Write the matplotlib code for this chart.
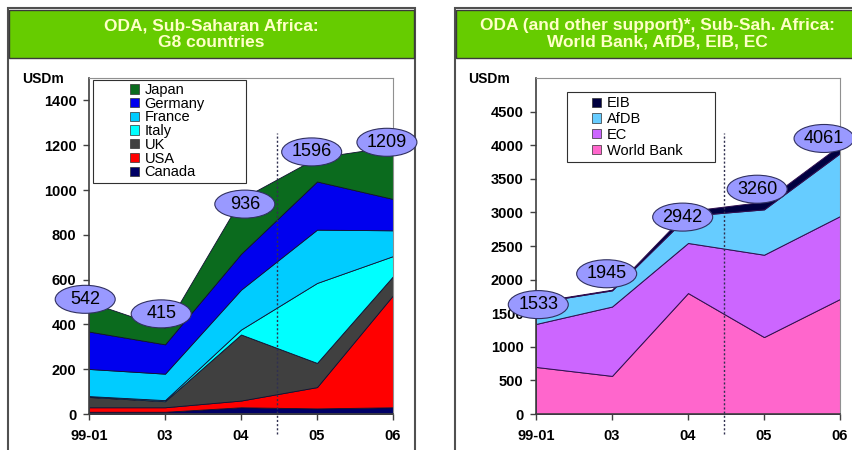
import numpy as np
import matplotlib
matplotlib.use("Agg")
import matplotlib.pyplot as plt
import matplotlib.patches as mpatches
import matplotlib.transforms as mtransforms

plt.rcParams['font.family'] = ['Liberation Sans', 'DejaVu Sans']

years = ['99-01', '03', '04', '05', '06']

# left chart: G8 donors, USD m (stack order bottom -> top)
g8_names = ['Canada', 'USA', 'UK', 'Italy', 'France', 'Germany', 'Japan']
canada = [10, 10, 30, 25, 30]
usa = [20, 20, 30, 95, 500]
uk = [46, 27, 295, 108, 85]
italy = [4, 5, 22, 357, 90]
france = [121, 118, 178, 238, 115]
germany = [167, 131, 160, 215, 140]
japan = [132, 74, 245, 107, 235]
g8_colors = ['#000066', '#ff0000', '#404040', '#00ffff', '#00ccff', '#0000ee', '#0b6b1e']
g8_bubbles = ['542', '415', '936', '1596', '1209']
g8_bub_x = [-0.05, 0.95, 2.05, 2.93, 3.92]
g8_bub_y = [512, 447, 937, 1170, 1213]

# right chart: multilaterals, USD m (bottom -> top)
ml_names = ['World Bank', 'EC', 'AfDB', 'EIB']
world_bank = [700, 567, 1800, 1145, 1712]
ec = [640, 1032, 745, 1225, 1233]
afdb = [320, 241, 405, 675, 935]
eib = [10, 10, 70, 115, 120]
ml_colors = ['#ff66cc', '#cc66ff', '#66ccff', '#000040']
ml_bubbles = ['1533', '1945', '2942', '3260', '4061']
ml_bub_x = [0.03, 0.93, 1.93, 2.91, 3.79]
ml_bub_y = [1628, 2087, 2930, 3345, 4100]

W, H = 853, 450
fig = plt.figure(figsize=(W / 100, H / 100), dpi=100)


def px(x0, y0, w, h):
    # pixel box (top-left origin) -> figure fraction
    return [x0 / W, 1 - (y0 + h) / H, w / W, h / H]


def frame(x0, x1, title):
    r = mpatches.Rectangle((x0 / W, -0.02), (x1 - x0) / W, 1 - 8 / H + 0.02,
                           transform=fig.transFigure, fc='white', ec='#505050', lw=1.5, zorder=-2)
    fig.patches.append(r)
    band = mpatches.Rectangle(((x0 + 1) / W, 1 - 58 / H), (x1 - x0 - 2) / W, 48 / H,
                              transform=fig.transFigure, fc='#66cc00', ec='#3a3a3a', lw=1.0, zorder=-1)
    fig.patches.append(band)
    fig.text((x0 + x1) / 2 / W, 1 - 34 / H, title, ha='center', va='center', fontsize=12.5,
             fontweight='bold', color='#ffffc8', linespacing=1.15)


frame(8, 415, 'ODA, Sub-Saharan Africa:\nG8 countries')
frame(455, 860, 'ODA (and other support)*, Sub-Sah. Africa:\nWorld Bank, AfDB, EIB, EC')


def style_axes(ax, ymax, step, top):
    ax.set_xlim(0, 4)
    ax.set_ylim(0, top)
    ax.set_xticks(range(5))
    ax.set_xticklabels(years, fontsize=10.5, fontweight='bold')
    ax.set_yticks(np.arange(0, ymax + 1, step))
    ax.set_yticklabels([str(v) for v in np.arange(0, ymax + 1, step)], fontsize=10.5, fontweight='bold')
    ax.tick_params(length=4, width=1, color='#404040', pad=5)
    ax.tick_params(axis='x', pad=7)
    for s in ['top', 'right']:
        ax.spines[s].set_color('#909090')
        ax.spines[s].set_linewidth(0.8)
    for s in ['left', 'bottom']:
        ax.spines[s].set_color('#404040')
        ax.spines[s].set_linewidth(1.2)


def bubbles(ax, xs, ys, labels):
    for x, y, s in zip(xs, ys, labels):
        tr = fig.dpi_scale_trans + mtransforms.ScaledTranslation(x, y, ax.transData)
        e = mpatches.Ellipse((0, 0), 0.60, 0.28, transform=tr, fc='#9999ff', ec='#303060',
                             lw=0.8, clip_on=False, zorder=6)
        ax.add_artist(e)
        ax.text(x, y, s, ha='center', va='center', fontsize=13, color='black', zorder=7, clip_on=False)


def divider(ax):
    tr = mtransforms.blended_transform_factory(ax.transData, ax.transAxes)
    ax.plot([2.48, 2.48], [-0.06, 0.836], transform=tr, ls=(0, (1.5, 1.5)), color='#303050',
            lw=1.0, clip_on=False, zorder=4)


def legend_box(ax, x0, y0, x1, y1, handles, fs, sp, anchor):
    ax.add_patch(mpatches.Rectangle((x0, y0), x1 - x0, y1 - y0, transform=ax.transAxes,
                                    fc='white', ec='#303030', lw=0.8, zorder=8))
    leg = ax.legend(handles=handles, loc='upper left', bbox_to_anchor=anchor, frameon=False,
                    fontsize=fs, handlelength=0.6, handleheight=0.6, handletextpad=0.4,
                    labelspacing=sp, borderaxespad=0, borderpad=0)
    leg.set_zorder(9)


# ---- left chart
ax1 = fig.add_axes(px(89, 78, 304, 336))
ax1.stackplot(range(5), canada, usa, uk, italy, france, germany, japan, colors=g8_colors,
              edgecolor='#101030', linewidth=0.6, zorder=2)
style_axes(ax1, 1400, 200, 1500)
divider(ax1)
h1 = [mpatches.Patch(fc=c, ec='#303030', lw=0.5, label=n) for n, c in zip(g8_names, g8_colors)][::-1]
legend_box(ax1, 0.013, 0.6875, 0.516, 0.994, h1, 10.5, -0.02, (0.135, 0.985))
fig.text(22 / W, 1 - 79 / H, 'USDm', fontsize=10, fontweight='bold', va='center')
bubbles(ax1, g8_bub_x, g8_bub_y, g8_bubbles)

# ---- right chart
ax2 = fig.add_axes(px(536, 78, 304, 336))
ax2.stackplot(range(5), world_bank, ec, afdb, eib, colors=ml_colors,
              edgecolor='#301050', linewidth=0.7, zorder=2)
style_axes(ax2, 4500, 500, 5000)
divider(ax2)
h2 = [mpatches.Patch(fc=c, ec='#303030', lw=0.5, label=n) for n, c in zip(ml_names, ml_colors)][::-1]
legend_box(ax2, 0.102, 0.75, 0.589, 0.958, h2, 10.5, 0.12, (0.185, 0.945))
fig.text(468 / W, 1 - 79 / H, 'USDm', fontsize=10, fontweight='bold', va='center')
bubbles(ax2, ml_bub_x, ml_bub_y, ml_bubbles)

fig.savefig('out.png', dpi=100)
